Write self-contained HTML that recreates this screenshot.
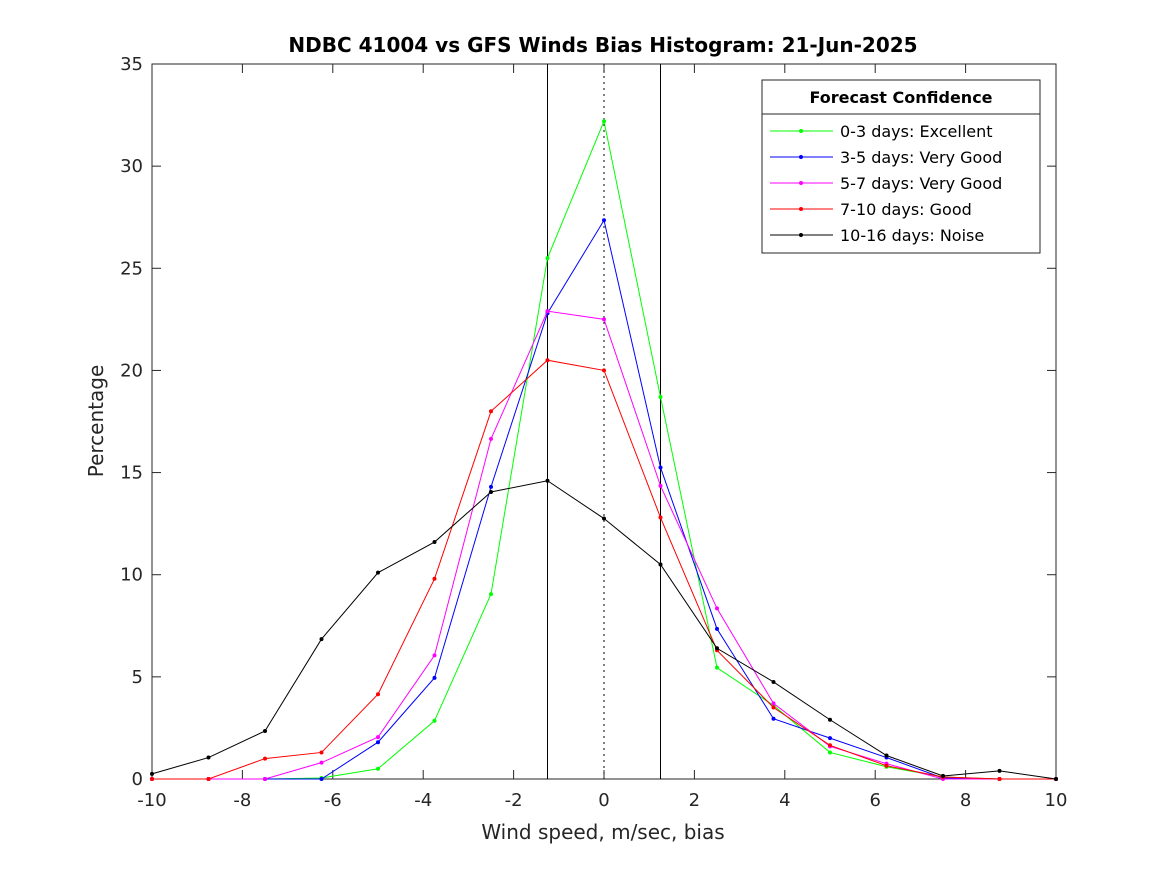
<!DOCTYPE html>
<html><head><meta charset="utf-8"><style>
html,body{margin:0;padding:0;background:#fff;}
svg{display:block;font-family:"DejaVu Sans","Liberation Sans",sans-serif;}
</style></head><body>
<svg id="chart" width="1167" height="875" viewBox="0 0 1167 875">
<rect x="0" y="0" width="1167" height="875" fill="#fff"/>
<text x="603" y="52" text-anchor="middle" font-size="20" font-weight="bold">NDBC 41004 vs GFS Winds Bias Histogram: 21-Jun-2025</text>
<g id="axes"></g>
<g id="series"></g>
<text x="603" y="839" text-anchor="middle" font-size="20" fill="#262626">Wind speed, m/sec, bias</text>
<text transform="translate(103,421) rotate(-90)" text-anchor="middle" font-size="20" fill="#262626">Percentage</text>
<g id="legend"></g>
</svg>
<script>
const xValues=[-10,-8.75,-7.5,-6.25,-5,-3.75,-2.5,-1.25,0,1.25,2.5,3.75,5,6.25,7.5,8.75,10];
const seriesNames=["0-3 days: Excellent","3-5 days: Very Good","5-7 days: Very Good","7-10 days: Good","10-16 days: Noise"];
const seriesColors=["#00ff00","#0000ff","#ff00ff","#ff0000","#000000"];
const green=[0,0,0,0.05,0.5,2.85,9.05,25.5,32.2,18.7,5.45,3.6,1.3,0.6,0.1,0,0];
const blue=[0,0,0,0,1.8,4.95,14.3,22.8,27.35,15.25,7.35,2.95,2.0,1.05,0.05,0,0];
const magenta=[0,0,0,0.8,2.05,6.05,16.65,22.9,22.5,14.35,8.35,3.7,1.6,0.75,0,0,0];
const red=[0,0,1.0,1.3,4.15,9.8,18,20.5,20,12.8,6.3,3.5,1.65,0.65,0.1,0,0];
const black=[0.25,1.05,2.35,6.85,10.1,11.6,14.05,14.6,12.75,10.5,6.4,4.75,2.9,1.15,0.15,0.4,0];
const xTicks=[-10,-8,-6,-4,-2,0,2,4,6,8,10];
const yTicks=[0,5,10,15,20,25,30,35];
const vLines=[-1.25,0,1.25];

const NS="http://www.w3.org/2000/svg";
const L=152,R=1056,T=64,B=779;
const xs=v=>L+(v+10)/20*(R-L);
const ys=v=>B-v/35*(B-T);
function mk(tag,attrs,parent){const e=document.createElementNS(NS,tag);for(const k in attrs)e.setAttribute(k,attrs[k]);parent.appendChild(e);return e;}
const axes=document.getElementById('axes');
const frame=mk('rect',{x:L,y:T,width:R-L,height:B-T,fill:'none',stroke:'#262626','stroke-width':1},axes);


xTicks.forEach(t=>{
  const x=xs(t);
  const a=mk('line',{x1:x,x2:x,y1:B,y2:B-9,stroke:'#262626'},axes);
  
  
  const b=mk('line',{x1:x,x2:x,y1:T,y2:T+9,stroke:'#262626'},axes);
  
  
  const tx=mk('text',{x:x,y:B+27,'text-anchor':'middle','font-size':18,fill:'#262626'},axes);
  tx.textContent=t;
  
  
});
yTicks.forEach(t=>{
  const y=ys(t);
  const a=mk('line',{x1:L,x2:L+9,y1:y,y2:y,stroke:'#262626'},axes);
  
  
  const b=mk('line',{x1:R,x2:R-9,y1:y,y2:y,stroke:'#262626'},axes);
  
  
  const tx=mk('text',{x:L-9,y:y+6,'text-anchor':'end','font-size':18,fill:'#262626'},axes);
  tx.textContent=t;
  
  
});
vLines.forEach(v=>{
  const ln=mk('line',{x1:xs(v),x2:xs(v),y1:T,y2:B,stroke:'#000','stroke-width':1},axes);
  if(v===0)ln.setAttribute('stroke-dasharray','2,4');
  
  
});
const sg=document.getElementById('series');
const allData=[green,blue,magenta,red,black];
const keys=['green','blue','magenta','red','black'];
allData.forEach((d,i)=>{
  const g=mk('g',{},sg);
  
  
  const pts=d.map((v,j)=>xs(xValues[j])+','+ys(v)).join(' ');
  const pl=mk('polyline',{points:pts,fill:'none',stroke:seriesColors[i],'stroke-width':1},g);
  
  
  d.forEach((v,j)=>{
    const c=mk('circle',{cx:xs(xValues[j]),cy:ys(v),r:2,fill:seriesColors[i]},g);
    
    
  });
});
const lg=document.getElementById('legend');
const box=mk('rect',{x:762,y:80,width:278,height:173,fill:'#fff',stroke:'#262626'},lg);


const sep=mk('line',{x1:762,x2:1040,y1:114,y2:114,stroke:'#262626'},lg);


const lt=mk('text',{x:901,y:103,'text-anchor':'middle','font-size':16,'font-weight':'bold'},lg);
lt.textContent='Forecast Confidence';


seriesNames.forEach((n,i)=>{
  const y=131+i*26;
  const g=mk('g',{},lg);
  
  
  mk('line',{x1:770,x2:833,y1:y,y2:y,stroke:seriesColors[i]},g);
  mk('circle',{cx:801,cy:y,r:2,fill:seriesColors[i]},g);
  const t=mk('text',{x:840,y:y+6,'font-size':16,fill:'#000'},g);
  t.textContent=n;
});
</script>
</body></html>
